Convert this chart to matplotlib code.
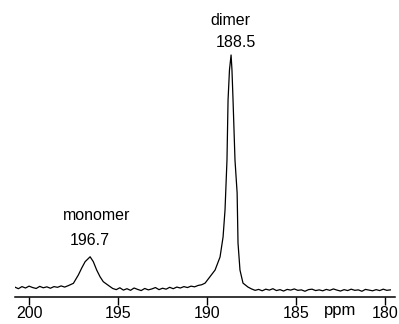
import numpy as np
import matplotlib
matplotlib.use('Agg')
import matplotlib.pyplot as plt

# noisy baseline pieces (ppm grids, intensity)
base_a_ppm = np.arange(200.8, 197.65, -0.2)
base_a = [0.004, -0.003, 0.006, 0.000, 0.008, 0.002, -0.002, 0.007,
          0.001, 0.005, -0.001, 0.006, 0.003, 0.009, 0.004, 0.010]

monomer_ppm = [197.51, 197.23, 197.04, 196.85, 196.57, 196.39, 196.20, 196.01, 195.83, 195.45]
monomer_int = [0.020, 0.056, 0.086, 0.113, 0.134, 0.113, 0.077, 0.048, 0.027, 0.006]

base_b_ppm = np.arange(195.3, 190.25, -0.2)
base_b = [-0.002, -0.007, 0.001, -0.009, -0.003, -0.010, 0.000, -0.006,
          -0.011, -0.002, -0.008, -0.004, 0.002, -0.007, -0.001, -0.005,
          0.003, -0.003, 0.004, 0.000, 0.006, 0.002, 0.008, 0.005, 0.011, 0.014]

dimer_ppm = [190.11, 189.55, 189.27, 189.10, 188.99, 188.88, 188.82, 188.74, 188.65,
             188.60, 188.54, 188.43, 188.31, 188.26, 188.15, 187.98, 187.70]
dimer_int = [0.021, 0.077, 0.133, 0.219, 0.335, 0.549, 0.807, 0.936, 1.000,
             0.936, 0.807, 0.549, 0.408, 0.193, 0.077, 0.021, 0.004]

base_c_ppm = np.arange(187.5, 179.5, -0.2)
base_c = [-0.004, -0.010, -0.006, -0.012, -0.005, -0.009, -0.003, -0.011,
          -0.007, -0.013, -0.006, -0.009, -0.004, -0.010, -0.008, -0.014,
          -0.007, -0.005, -0.011, -0.008, -0.012, -0.006, -0.010, -0.004,
          -0.009, -0.013, -0.007, -0.011, -0.005, -0.010, -0.008, -0.014,
          -0.006, -0.009, -0.012, -0.007, -0.011, -0.005, -0.010, -0.008]

tick_vals = [200, 195, 190, 185, 180]

ppm = np.concatenate([base_a_ppm[:len(base_a)], monomer_ppm,
                      base_b_ppm[:len(base_b)], dimer_ppm, base_c_ppm[:len(base_c)]])
inten = np.concatenate([base_a, monomer_int, base_b, dimer_int, base_c])

plt.rcParams['font.family'] = ['Liberation Sans', 'DejaVu Sans']

fig = plt.figure(figsize=(3.99, 3.24), dpi=100)
ax = fig.add_axes([15 / 399, 27 / 324, 380 / 399, 297 / 324])

ax.plot(ppm, inten, color='black', lw=0.9)

ax.set_xlim(200.79, 179.44)
ax.set_ylim(-0.0386, 1.236)
ax.set_xticks(tick_vals)
ax.set_xticklabels([str(t) for t in tick_vals], fontsize=11.5)
ax.set_yticks([])
for s in ['top', 'right', 'left']:
    ax.spines[s].set_visible(False)
ax.spines['bottom'].set_linewidth(1.1)
ax.tick_params(axis='x', direction='out', length=5.5, width=1, pad=1)

ax.text(196.18, 0.292, 'monomer', ha='center', va='baseline', fontsize=11.5)
ax.text(196.57, 0.185, '196.7', ha='center', va='baseline', fontsize=11.5)
ax.text(188.71, 1.129, 'dimer', ha='center', va='baseline', fontsize=11.5)
ax.text(188.37, 1.034, '188.5', ha='center', va='baseline', fontsize=11.5)
ax.text(182.53, -0.116, 'ppm', ha='center', va='baseline', fontsize=12, clip_on=False)

fig.savefig('out.png', dpi=100)
